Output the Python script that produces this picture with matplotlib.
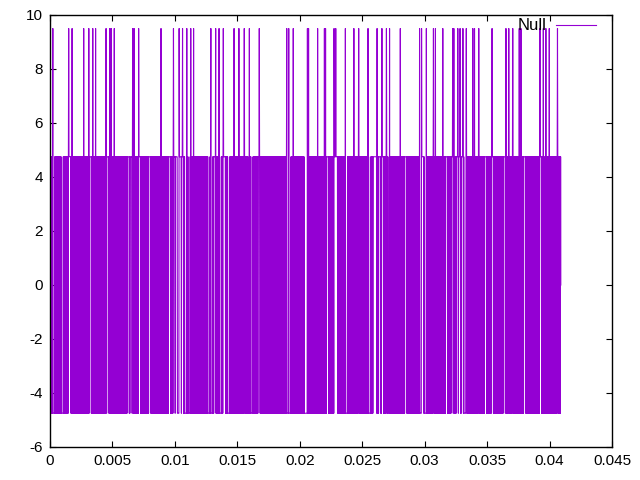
import numpy as np
import matplotlib
matplotlib.use("Agg")
import matplotlib.pyplot as plt
from matplotlib.ticker import FuncFormatter, MultipleLocator

plt.rcParams['font.family'] = ['Liberation Sans', 'DejaVu Sans']
plt.rcParams['path.simplify'] = False

# ---- data ----
series_name = "Null"
sample_rate = 44100.0          # samples per second
duration = 0.0409              # seconds of signal
level_low, level_high, level_peak, level_end = -4.75, 4.75, 9.5, 0.0

# times (s) where the signal reaches the 9.5 peak
spike_times = [0.000224, 0.001502, 0.001773, 0.002700, 0.003099, 0.003419, 0.003658,
               0.004489, 0.004776, 0.004888, 0.005152, 0.006613, 0.006725, 0.007093,
               0.008882, 0.009888, 0.010343, 0.010607, 0.010958, 0.011278, 0.011486,
               0.012875, 0.013275, 0.013538, 0.013882, 0.014736, 0.015136, 0.015559,
               0.015958, 0.016757, 0.018946, 0.019105, 0.019473, 0.020623, 0.020703,
               0.021422, 0.021981, 0.022061, 0.022748, 0.022883, 0.023658, 0.024321,
               0.024720, 0.025463, 0.026182, 0.026581, 0.026933, 0.027196, 0.028051,
               0.029593, 0.029752, 0.030128, 0.030711, 0.030871, 0.031454, 0.032252,
               0.032332, 0.032652, 0.032843, 0.033051, 0.033323, 0.033850, 0.033986,
               0.034329, 0.035399, 0.036518, 0.036725, 0.037045, 0.037580, 0.037716,
               0.039233, 0.039497, 0.039712, 0.039976, 0.040639]

# times (s) where the signal holds one level for a short while
hold_times = [0.000224, 0.000894, 0.001502, 0.003147, 0.003339, 0.004537, 0.006190,
              0.006398, 0.007093, 0.007892, 0.009488, 0.009856, 0.010023, 0.010200,
              0.010360, 0.010543, 0.010775, 0.011054, 0.012652, 0.012875, 0.013107,
              0.013538, 0.013882, 0.014233, 0.015862, 0.016078, 0.016661, 0.018946,
              0.019129, 0.019393, 0.020352, 0.020488, 0.022141, 0.022724, 0.022859,
              0.023658, 0.025335, 0.025519, 0.025870, 0.026006, 0.026325, 0.026533,
              0.027061, 0.028395, 0.029593, 0.029752, 0.029960, 0.031670, 0.032116,
              0.032532, 0.032715, 0.032931, 0.033140, 0.034785, 0.035335, 0.036302,
              0.037926, 0.039193, 0.039441]
hold_length = 0.00015          # seconds

# ---- build the sampled signal ----
t = np.arange(0.0, duration, 1.0 / sample_rate)
levels = np.array([level_low, level_high])
v = levels[np.arange(t.size) % 2].astype(float)
for h in hold_times:
    idx = np.where((t >= h) & (t <= h + hold_length))[0]
    if idx.size:
        v[idx] = v[idx[0]]
for s in spike_times:
    v[np.argmin(np.abs(t - s))] = level_peak
t = np.append(t, duration)
v = np.append(v, level_end)

# ---- plot ----
fig = plt.figure(figsize=(6.4, 4.8), dpi=100)
ax = fig.add_axes([50 / 640, 1 - 447 / 480, 562 / 640, 432 / 480])
ax.plot(t, v, color='#9400D3', lw=0.8, label=series_name, antialiased=True)

ax.set_xlim(0, 0.045)
ax.set_ylim(-6, 10)
ax.xaxis.set_major_locator(MultipleLocator(0.005))
ax.yaxis.set_major_locator(MultipleLocator(2))
ax.xaxis.set_major_formatter(FuncFormatter(lambda x, p: '%g' % round(x, 6)))
ax.yaxis.set_major_formatter(FuncFormatter(lambda y, p: '%g' % y))
ax.tick_params(direction='in', length=4, width=0.8, top=True, right=True,
               labelsize=11, pad=5, colors='black')
for sp in ax.spines.values():
    sp.set_linewidth(1.0)
    sp.set_color('black')

leg = ax.legend(loc='upper right', bbox_to_anchor=(596 / 640, 1 - 18.5 / 480),
                bbox_transform=fig.transFigure, frameon=False, markerfirst=False,
                handlelength=2.4, handletextpad=0.55, borderpad=0, borderaxespad=0,
                fontsize=12)

fig.savefig('out.png', dpi=100)
